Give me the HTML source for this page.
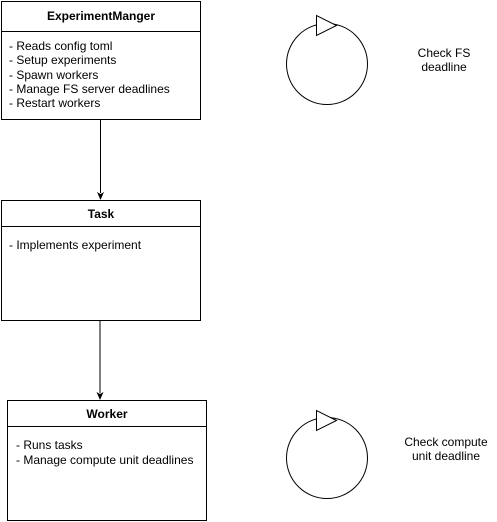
<!DOCTYPE html>
<html><head><style>body{margin:0;background:#fff}svg{display:block}</style></head><body>
<svg width="497" height="522" xmlns="http://www.w3.org/2000/svg" font-family="Liberation Sans, Arial, sans-serif" font-size="12">
<rect width="497" height="522" fill="#fff"/>
<g fill="#fff" stroke="#000" stroke-width="1">
<rect x="1.5" y="1.5" width="199" height="118"/>
<line x1="1.5" y1="31.5" x2="200.5" y2="31.5"/>
<rect x="1.5" y="200.5" width="199" height="120"/>
<line x1="1.5" y1="226.5" x2="200.5" y2="226.5"/>
<rect x="7.5" y="400.5" width="199" height="120"/>
<line x1="7.5" y1="426.5" x2="206.5" y2="426.5"/>
<circle cx="327" cy="64" r="40.5"/>
<polygon points="316.5,15.5 316.5,35.5 336.5,25.5"/>
<circle cx="327" cy="458" r="40.5"/>
<polygon points="316.5,410.5 316.5,430.5 336.5,420.5"/>
<line x1="100.5" y1="119.5" x2="100.5" y2="193"/>
<line x1="100" y1="320.5" x2="100" y2="393"/>
</g>
<polygon points="100.5,200 97,192 100.5,194 104,192" fill="#000"/>
<polygon points="100,400 96.5,392 100,394 103.5,392" fill="#000"/>
<g fill="#000">
<text x="101" y="20" text-anchor="middle" font-weight="bold">ExperimentManger</text>
<text x="9" y="50">- Reads config toml</text>
<text x="9" y="64">- Setup experiments</text>
<text x="9" y="79">- Spawn workers</text>
<text x="9" y="93">- Manage FS server deadlines</text>
<text x="9" y="107">- Restart workers</text>
<text x="101" y="218" text-anchor="middle" font-weight="bold">Task</text>
<text x="9" y="249">- Implements experiment</text>
<text x="107" y="418" text-anchor="middle" font-weight="bold">Worker</text>
<text x="16" y="449">- Runs tasks</text>
<text x="16" y="464">- Manage compute unit deadlines</text>
<text x="444" y="57" text-anchor="middle">Check FS</text>
<text x="444" y="71" text-anchor="middle">deadline</text>
<text x="446" y="446" text-anchor="middle">Check compute</text>
<text x="446" y="460" text-anchor="middle">unit deadline</text>
</g>
</svg>
</body></html>
